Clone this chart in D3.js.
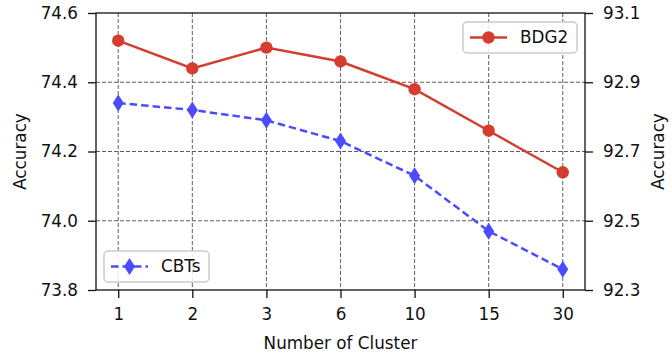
<!DOCTYPE html>
<html>
<head>
<meta charset="utf-8">
<script src="https://cdn.jsdelivr.net/npm/d3@7"></script>
<style>
  body { margin: 0; background: #fff; }
  text { font-family: "DejaVu Sans", sans-serif; fill: #111; }
</style>
</head>
<body>
<div id="chart"></div>
<script>
const clusters = ["1", "2", "3", "6", "10", "15", "30"];
const cbts = [74.34, 74.32, 74.29, 74.23, 74.13, 73.97, 73.86];   // left axis
const bdg2 = [93.02, 92.94, 93.00, 92.96, 92.88, 92.76, 92.64];   // right axis
const leftTicks = [73.8, 74.0, 74.2, 74.4, 74.6];
const rightTicks = [92.3, 92.5, 92.7, 92.9, 93.1];

const width = 672;
const height = 360;
const margin = { top: 13, right: 87, bottom: 70, left: 96 };
const w = width - margin.left - margin.right;
const h = height - margin.top - margin.bottom;

const red = "#d43d30";
const blue = "#4b4bff";
const fs = "16.8px";

const svg = d3.select("#chart").append("svg")
    .attr("width", width)
    .attr("height", height)
    .append("g")
    .attr("transform", "translate(" + margin.left + "," + margin.top + ")");

const x = d3.scalePoint().domain(clusters).range([0, w]).padding(0.3);
const yL = d3.scaleLinear().domain([73.8, 74.6]).range([h, 0]);
const yR = d3.scaleLinear().domain([92.3, 93.1]).range([h, 0]);

// grid
const grid = svg.append("g")
    .attr("stroke", "#444")
    .attr("stroke-width", 1)
    .attr("stroke-dasharray", "4,2")
    .attr("opacity", 0.85);
grid.selectAll(".gx").data(clusters).enter().append("line")
    .attr("x1", d => x(d)).attr("x2", d => x(d))
    .attr("y1", 0).attr("y2", h);
grid.selectAll(".gy").data(leftTicks.slice(1, -1)).enter().append("line")
    .attr("x1", 0).attr("x2", w)
    .attr("y1", d => yL(d)).attr("y2", d => yL(d));

// axes
const fmt = d3.format(".1f");
const axB = svg.append("g").attr("transform", "translate(0," + h + ")")
    .call(d3.axisBottom(x).tickSize(8).tickPadding(10));
const axL = svg.append("g")
    .call(d3.axisLeft(yL).tickValues(leftTicks).tickFormat(fmt).tickSize(8).tickPadding(10));
const axR = svg.append("g").attr("transform", "translate(" + w + ",0)")
    .call(d3.axisRight(yR).tickValues(rightTicks).tickFormat(fmt).tickSize(8).tickPadding(10));
[axB, axL, axR].forEach(a => {
    a.selectAll("text").style("font-size", fs).style("fill", "#111")
        .style("font-family", "DejaVu Sans, sans-serif");
    a.selectAll(".tick line").attr("stroke", "#111").attr("stroke-width", 1.3);
    a.select(".domain").remove();
});

svg.append("rect")
    .attr("width", w).attr("height", h)
    .attr("fill", "none").attr("stroke", "#111").attr("stroke-width", 1.3);

// labels
svg.append("text")
    .attr("x", w / 2).attr("y", h + 59)
    .attr("text-anchor", "middle").style("font-size", fs)
    .text("Number of Cluster");
svg.append("text")
    .attr("transform", "translate(" + (-70) + "," + (h / 2) + ") rotate(-90)")
    .attr("text-anchor", "middle").style("font-size", fs)
    .text("Accuracy");
svg.append("text")
    .attr("transform", "translate(" + (w + 79) + "," + (h / 2) + ") rotate(-90)")
    .attr("text-anchor", "middle").style("font-size", fs)
    .text("Accuracy");

// CBTs series
const diamond = "M0,-8.5L5.5,0L0,8.5L-5.5,0Z";
svg.append("path")
    .datum(cbts)
    .attr("fill", "none")
    .attr("stroke", blue)
    .attr("stroke-width", 2.5)
    .attr("stroke-dasharray", "7.5,4")
    .attr("d", d3.line().x((d, i) => x(clusters[i])).y(d => yL(d)));
svg.selectAll(".cb").data(cbts).enter().append("path")
    .attr("d", diamond)
    .attr("transform", (d, i) => "translate(" + x(clusters[i]) + "," + yL(d) + ")")
    .attr("fill", blue);

// BDG2 series
svg.append("path")
    .datum(bdg2)
    .attr("fill", "none")
    .attr("stroke", red)
    .attr("stroke-width", 2.5)
    .attr("d", d3.line().x((d, i) => x(clusters[i])).y(d => yR(d)));
svg.selectAll(".bd").data(bdg2).enter().append("circle")
    .attr("cx", (d, i) => x(clusters[i]))
    .attr("cy", d => yR(d))
    .attr("r", 6.2)
    .attr("fill", red);

// legends
function legend(lx, ly, lw, label, color, dashed, marker) {
    const g = svg.append("g").attr("transform", "translate(" + lx + "," + ly + ")");
    g.append("rect")
        .attr("width", lw).attr("height", 31).attr("rx", 4)
        .attr("fill", "#fff").attr("fill-opacity", 0.85)
        .attr("stroke", "#ccc").attr("stroke-width", 1.5);
    g.append("line")
        .attr("x1", 7).attr("x2", 44).attr("y1", 15.5).attr("y2", 15.5)
        .attr("stroke", color).attr("stroke-width", 2.5)
        .attr("stroke-dasharray", dashed ? "7.5,4" : null);
    if (marker === "circle") {
        g.append("circle").attr("cx", 25.5).attr("cy", 15.5).attr("r", 6.2).attr("fill", color);
    } else {
        g.append("path").attr("d", diamond)
            .attr("transform", "translate(25.5,15.5)").attr("fill", color);
    }
    g.append("text")
        .attr("x", 57).attr("y", 15.5).attr("dy", "0.35em")
        .style("font-size", fs)
        .text(label);
}
legend(367, 9, 114, "BDG2", red, false, "circle");
legend(8, 238, 105, "CBTs", blue, true, "diamond");
</script>
</body>
</html>
